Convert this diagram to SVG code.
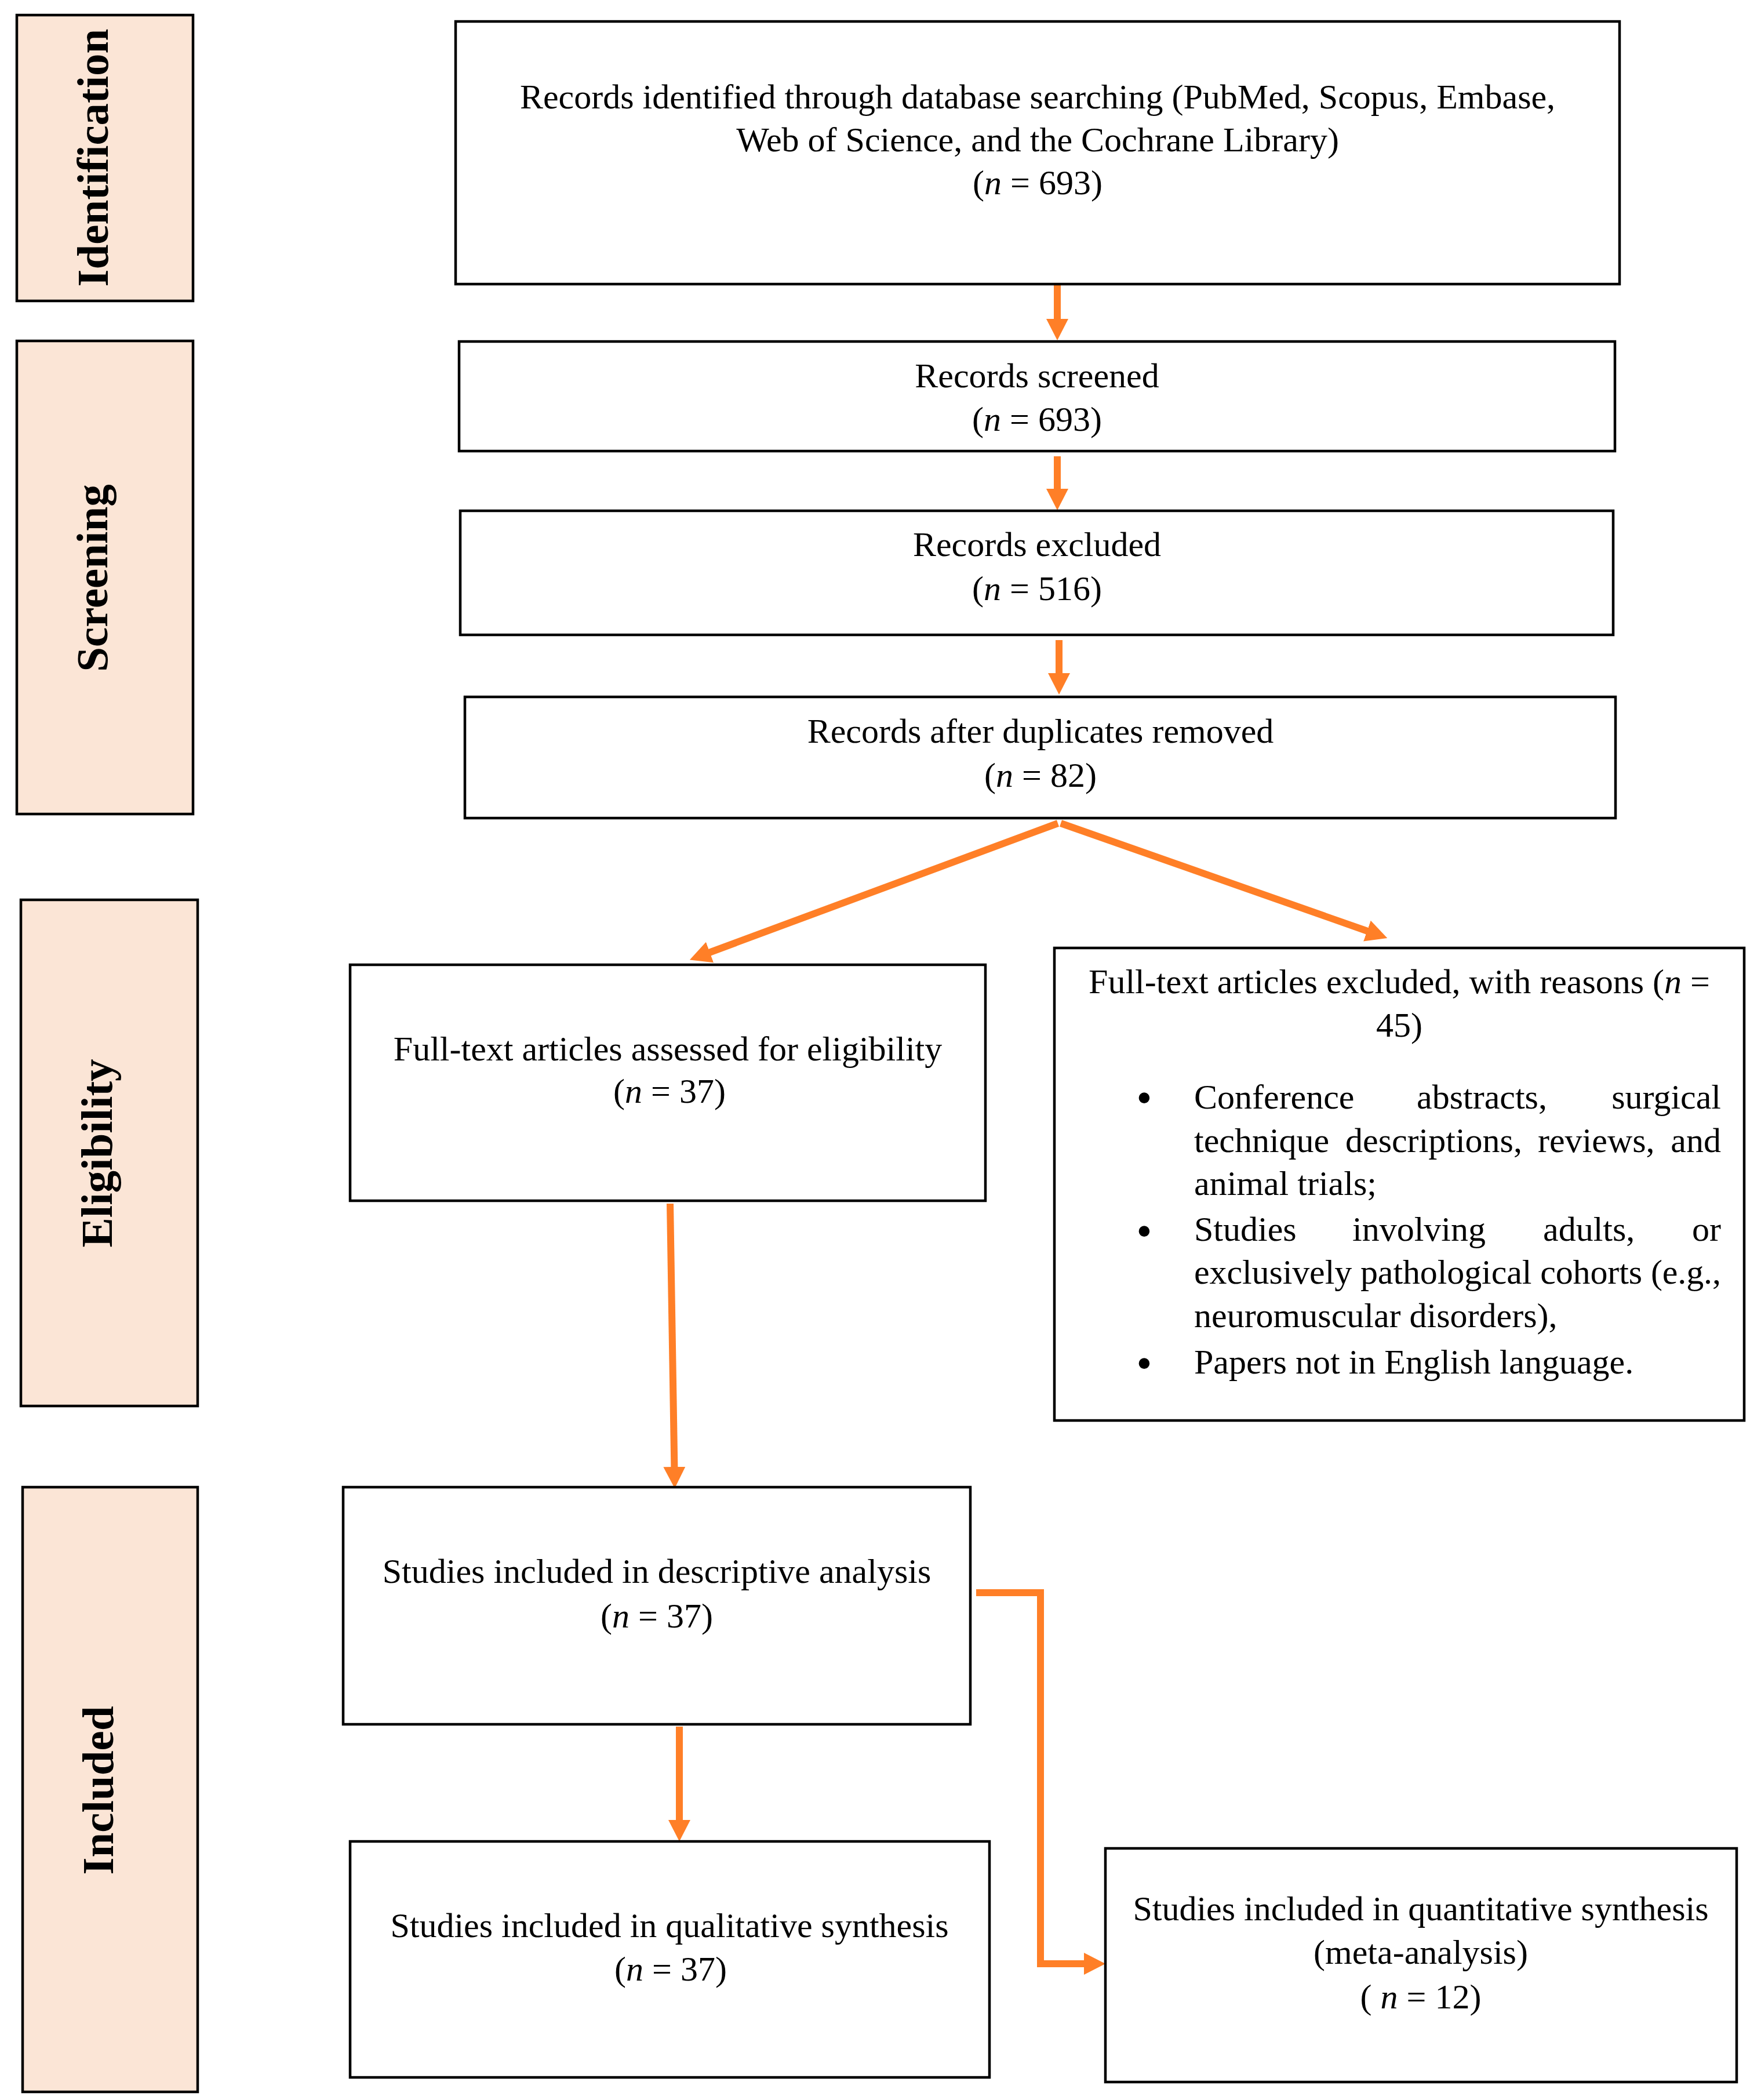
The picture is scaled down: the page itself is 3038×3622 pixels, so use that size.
<svg xmlns="http://www.w3.org/2000/svg" width="3038" height="3622" viewBox="0 0 3038 3622">
<style>
.bg{fill:#ffffff}
.phase{fill:#FBE5D6;stroke:#000;stroke-width:4.5}
.box{fill:#ffffff;stroke:#000;stroke-width:4.5}
.lbl{font-family:"Liberation Serif","Times New Roman",serif;font-weight:bold;font-size:77px;fill:#000}
.t{font-family:"Liberation Serif","Times New Roman",serif;font-size:60px;fill:#000}
.c{text-anchor:middle}
.e{text-anchor:end}
.i{font-style:italic}
.bul{font-family:"Liberation Serif","Times New Roman",serif;font-size:78px;fill:#000;text-anchor:middle}
.arr{fill:none;stroke:#FF7F27;stroke-width:12;marker-end:url(#ah)}
</style>
<defs>
<marker id="ah" markerUnits="userSpaceOnUse" viewBox="0 0 37 38" markerWidth="37" markerHeight="38" refX="7" refY="19" orient="auto">
<path d="M0,0 L37,19 L0,38 z" fill="#FF7F27"/>
</marker>
</defs>
<rect class="bg" x="0" y="0" width="3038" height="3622"/>

<g id="phase-identification">
<rect class="phase" x="29" y="26" width="304" height="493"/>
<text class="lbl c" transform="translate(186,272) rotate(-90)">Identification</text>
</g>
<g id="phase-screening">
<rect class="phase" x="29" y="588" width="304" height="816"/>
<text class="lbl c" transform="translate(185,997) rotate(-90)">Screening</text>
</g>
<g id="phase-eligibility">
<rect class="phase" x="36" y="1552" width="305" height="873"/>
<text class="lbl c" transform="translate(193,1989) rotate(-90)">Eligibility</text>
</g>
<g id="phase-included">
<rect class="phase" x="39" y="2565" width="302" height="1043"/>
<text class="lbl c" transform="translate(195,3088) rotate(-90)">Included</text>
</g>

<g id="connectors">
<line class="arr" x1="1824" y1="492" x2="1824" y2="557"/>
<line class="arr" x1="1824" y1="787" x2="1824" y2="850"/>
<line class="arr" x1="1827" y1="1104" x2="1827" y2="1168"/>
<line class="arr" x1="1825" y1="1420" x2="1218" y2="1645"/>
<line class="arr" x1="1830" y1="1420" x2="2365" y2="1608"/>
<line class="arr" x1="1156" y1="2076" x2="1163.5" y2="2537"/>
<line class="arr" x1="1172" y1="2978" x2="1172" y2="3146"/>
<path class="arr" d="M1684,2747 H1795 V3387 H1877"/>
</g>

<g id="node-identified">
<rect class="box" x="786" y="37" width="2008" height="453"/>
<text class="t c" x="1790" y="187">Records identified through database searching (PubMed, Scopus, Embase,</text>
<text class="t c" x="1790" y="261">Web of Science, and the Cochrane Library)</text>
<text class="t c" x="1790" y="335">(<tspan class="i">n</tspan> = 693)</text>
</g>
<g id="node-screened">
<rect class="box" x="792" y="589" width="1994" height="189"/>
<text class="t c" x="1789" y="668">Records screened</text>
<text class="t c" x="1789" y="743">(<tspan class="i">n</tspan> = 693)</text>
</g>
<g id="node-excluded">
<rect class="box" x="794" y="881" width="1989" height="214"/>
<text class="t c" x="1789" y="959">Records excluded</text>
<text class="t c" x="1789" y="1035">(<tspan class="i">n</tspan> = 516)</text>
</g>
<g id="node-duplicates">
<rect class="box" x="802" y="1202" width="1985" height="209"/>
<text class="t c" x="1795" y="1281">Records after duplicates removed</text>
<text class="t c" x="1795" y="1357">(<tspan class="i">n</tspan> = 82)</text>
</g>
<g id="node-fulltext">
<rect class="box" x="604" y="1664" width="1096" height="407"/>
<text class="t c" x="1152" y="1829">Full-text articles assessed for eligibility</text>
<text class="t c" x="1155" y="1902">(<tspan class="i">n</tspan> = 37)</text>
</g>
<g id="node-fulltext-excluded">
<rect class="box" x="1819" y="1635" width="1190" height="815"/>
<text class="t c" x="2414" y="1713">Full-text articles excluded, with reasons (<tspan class="i">n</tspan> =</text>
<text class="t c" x="2414" y="1788">45)</text>
<text class="bul" x="1974" y="1920">•</text>
<text class="bul" x="1974" y="2150">•</text>
<text class="bul" x="1974" y="2378">•</text>
<text class="t" x="2060" y="1912">Conference</text>
<text class="t" x="2444" y="1912">abstracts,</text>
<text class="t e" x="2969" y="1912">surgical</text>
<text class="t" x="2060" y="1987">technique</text>
<text class="t" x="2321" y="1987">descriptions,</text>
<text class="t" x="2653" y="1987">reviews,</text>
<text class="t e" x="2969" y="1987">and</text>
<text class="t" x="2060" y="2061">animal trials;</text>
<text class="t" x="2060" y="2140">Studies</text>
<text class="t" x="2333" y="2140">involving</text>
<text class="t" x="2662" y="2140">adults,</text>
<text class="t e" x="2969" y="2140">or</text>
<text class="t" x="2060" y="2214" textLength="909" lengthAdjust="spacing">exclusively pathological cohorts (e.g.,</text>
<text class="t" x="2060" y="2289">neuromuscular disorders),</text>
<text class="t" x="2060" y="2369">Papers not in English language.</text>
</g>
<g id="node-descriptive">
<rect class="box" x="592" y="2565" width="1082" height="409"/>
<text class="t c" x="1133" y="2730">Studies included in descriptive analysis</text>
<text class="t c" x="1133" y="2807">(<tspan class="i">n</tspan> = 37)</text>
</g>
<g id="node-qualitative">
<rect class="box" x="604" y="3176" width="1103" height="407"/>
<text class="t c" x="1155" y="3341">Studies included in qualitative synthesis</text>
<text class="t c" x="1157" y="3416">(<tspan class="i">n</tspan> = 37)</text>
</g>
<g id="node-quantitative">
<rect class="box" x="1907" y="3188" width="1089" height="403"/>
<text class="t c" x="2451" y="3312">Studies included in quantitative synthesis</text>
<text class="t c" x="2451" y="3387">(meta-analysis)</text>
<text class="t c" x="2451" y="3464">( <tspan class="i">n</tspan> = 12)</text>
</g>
</svg>
